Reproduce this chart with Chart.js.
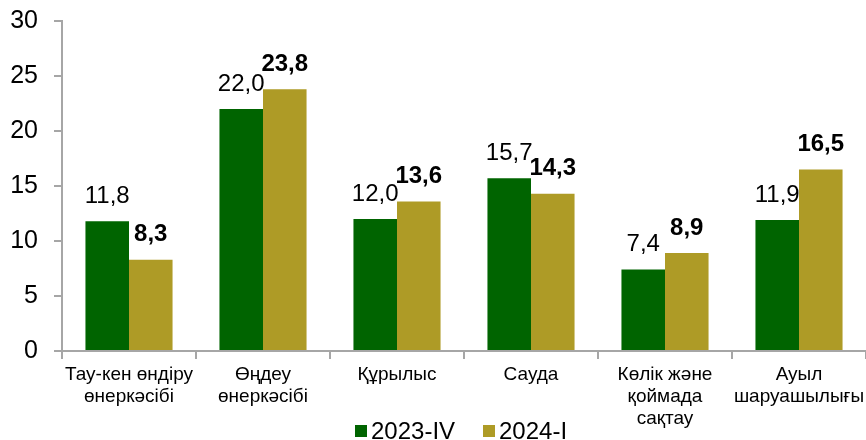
<!DOCTYPE html>
<html>
<head>
<meta charset="utf-8">
<script src="https://cdn.jsdelivr.net/npm/chart.js@4/dist/chart.umd.min.js"></script>
<style>
  html, body { margin: 0; padding: 0; background: #fff; }
  #wrap { width: 866px; height: 440px; position: relative; }
</style>
</head>
<body>
<div id="wrap"><canvas id="sectorChart"></canvas></div>
<script>
var categories = [
    ['Тау-кен өндіру', 'өнеркәсібі'],
    ['Өңдеу', 'өнеркәсібі'],
    ['Құрылыс'],
    ['Сауда'],
    ['Көлік және', 'қоймада', 'сақтау'],
    ['Ауыл', 'шаруашылығы']
];
var seriesNames = ['2023-IV', '2024-I'];
var values2023IV = [11.8, 22.0, 12.0, 15.7, 7.4, 11.9];
var values2024I = [8.3, 23.8, 13.6, 14.3, 8.9, 16.5];
var yTicks = [0, 5, 10, 15, 20, 25, 30];

var green = '#006400';
var gold = '#ae9b26';
var axisGrey = '#a6a6a6';
var fontFamily = "'Liberation Sans', Arial, sans-serif";

// value labels above each bar, second series in bold
var valueLabels = {
    id: 'valueLabels',
    afterDatasetsDraw: function (chart) {
        var ctx = chart.ctx;
        ctx.save();
        ctx.fillStyle = '#000';
        ctx.textAlign = 'center';
        ctx.textBaseline = 'bottom';
        chart.data.datasets.forEach(function (ds, i) {
            var meta = chart.getDatasetMeta(i);
            ctx.font = (i === 1 ? 'bold ' : '') + '24px ' + fontFamily;
            meta.data.forEach(function (bar, j) {
                ctx.fillText(ds.data[j].toFixed(1).replace('.', ','), bar.x, bar.y - 13);
            });
        });
        ctx.restore();
    }
};

// legend drawn by hand so it can sit beside the third label line
var bottomLegend = {
    id: 'bottomLegend',
    afterDraw: function (chart) {
        var ctx = chart.ctx;
        ctx.save();
        ctx.font = '24px ' + fontFamily;
        ctx.textBaseline = 'middle';
        ctx.textAlign = 'left';
        var x = 355, y = 431;
        chart.data.datasets.forEach(function (ds) {
            ctx.fillStyle = ds.backgroundColor;
            ctx.fillRect(x, y - 6, 12, 12);
            ctx.fillStyle = '#000';
            ctx.fillText(ds.label, x + 16, y + 1);
            x += 128;
        });
        ctx.restore();
    }
};

var ctx = document.getElementById('sectorChart').getContext('2d');
var sectorChart = new Chart(ctx, {
    type: 'bar',
    data: {
        labels: categories,
        datasets: [{
            label: seriesNames[0],
            data: values2023IV,
            backgroundColor: green,
            categoryPercentage: 0.65,
            barPercentage: 1.0
        }, {
            label: seriesNames[1],
            data: values2024I,
            backgroundColor: gold,
            categoryPercentage: 0.65,
            barPercentage: 1.0
        }]
    },
    options: {
        responsive: true,
        maintainAspectRatio: false,
        animation: false,
        layout: { padding: { top: 21, right: 0, left: 0, bottom: 0 } },
        plugins: {
            legend: { display: false },
            tooltip: { enabled: false }
        },
        scales: {
            x: {
                grid: {
                    drawOnChartArea: false,
                    drawTicks: true,
                    tickLength: 8,
                    color: axisGrey,
                    lineWidth: 2
                },
                border: { color: axisGrey, width: 2 },
                ticks: {
                    color: '#000',
                    padding: 5,
                    maxRotation: 0,
                    autoSkip: false,
                    font: { family: fontFamily, size: 19, lineHeight: '22px' }
                },
                afterFit: function (scale) {
                    scale.height = 89;
                    scale.paddingLeft = 0;
                    scale.paddingRight = 0;
                }
            },
            y: {
                min: 0,
                max: 30,
                afterBuildTicks: function (scale) {
                    scale.ticks = yTicks.map(function (v) { return { value: v }; });
                },
                grid: {
                    drawOnChartArea: false,
                    drawTicks: true,
                    tickLength: 8,
                    color: axisGrey,
                    lineWidth: 2
                },
                border: { color: axisGrey, width: 2 },
                ticks: {
                    color: '#000',
                    padding: 16,
                    font: { family: fontFamily, size: 25 }
                },
                afterFit: function (scale) {
                    scale.width = 62;
                    scale.paddingTop = 0;
                    scale.paddingBottom = 0;
                }
            }
        }
    },
    plugins: [valueLabels, bottomLegend]
});
</script>
</body>
</html>
